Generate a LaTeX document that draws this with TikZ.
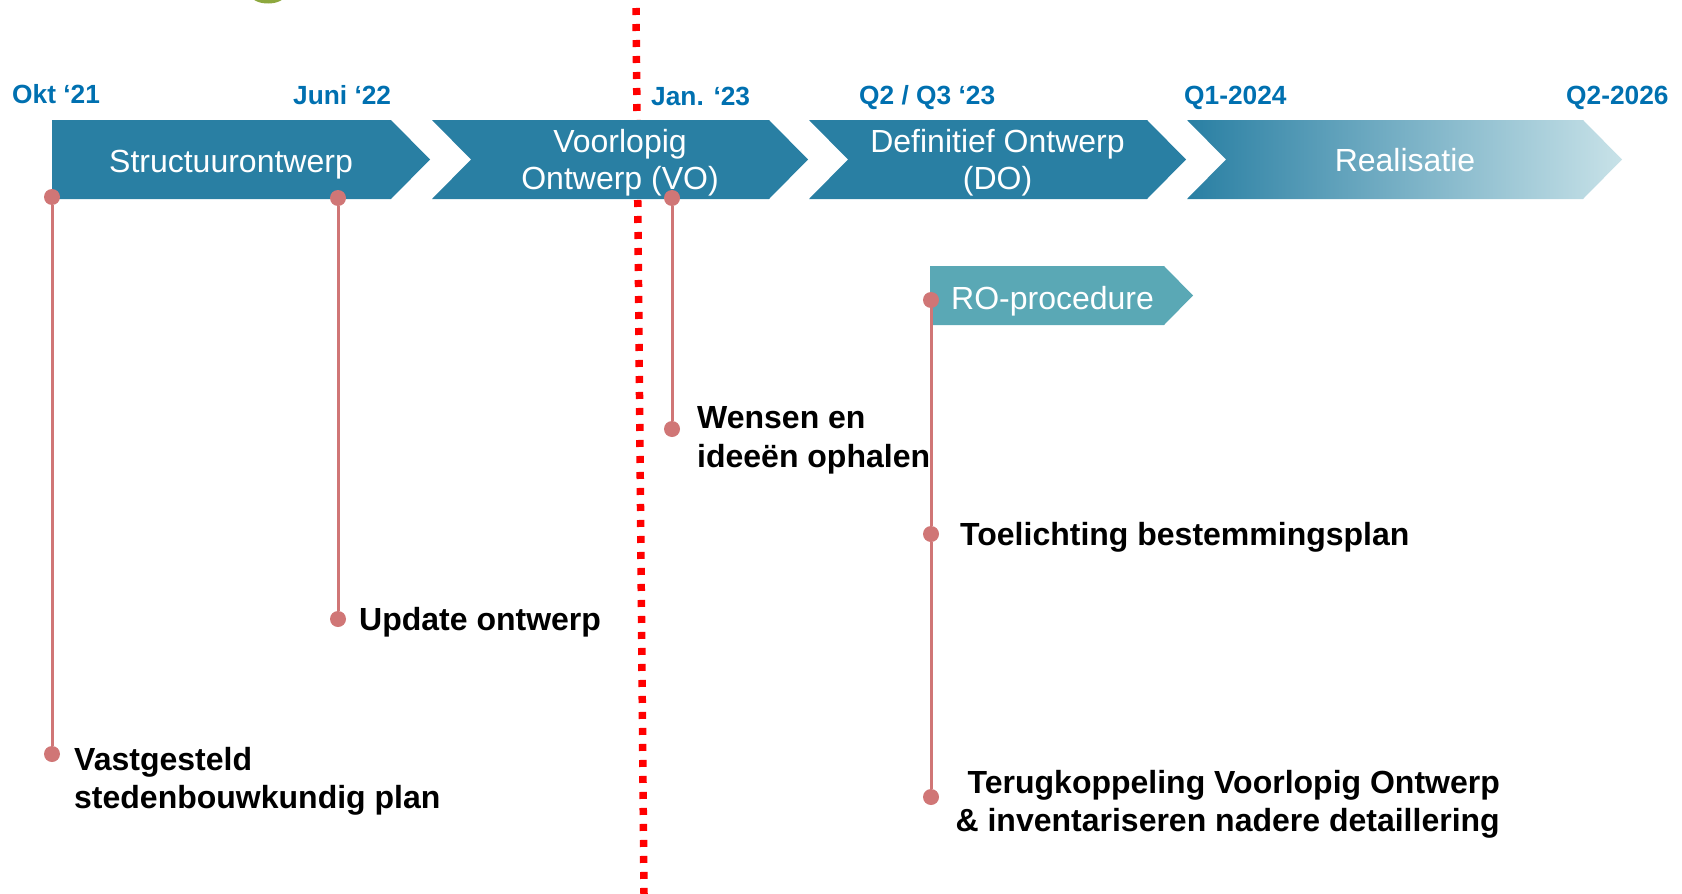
\documentclass[tikz,border=0pt]{standalone}
\usepackage{fontspec}
\setmainfont{Liberation Sans}
\definecolor{chev}{RGB}{41,127,163}
\definecolor{chevmid}{RGB}{92,167,182}
\definecolor{chevlight}{RGB}{200,226,232}
\definecolor{ro}{RGB}{90,168,181}
\definecolor{pin}{RGB}{208,118,118}
\definecolor{lab}{RGB}{0,112,176}
\definecolor{olive}{RGB}{141,168,62}
\definecolor{redline}{RGB}{255,0,0}
\begin{document}
\begin{tikzpicture}[x=1pt,y=-1pt,
  chevtext/.style={text=white,inner sep=0pt,align=center,font=\fontsize{32}{37}\selectfont},
  datelabel/.style={text=lab,inner sep=0pt,anchor=base west,font=\fontsize{26.3}{30}\selectfont\bfseries},
  milestone/.style={text=black,inner sep=0pt,font=\fontsize{32}{38.5}\selectfont\bfseries},
  dot/.style={circle,fill=pin,draw=none,minimum size=16pt,inner sep=0pt},
  conn/.style={draw=pin,line width=3pt},
  reddot/.style={draw=redline,line width=7.5pt,dash pattern=on 7pt off 9pt}]
\useasboundingbox (0,0) rectangle (1682,894);
% olive blob at the top edge
\begin{scope}
  \clip (0,0) rectangle (1682,894);
  \fill[olive] (268,-5) ellipse [x radius=17, y radius=8.5];
\end{scope}
% red dotted line (behind the chevrons)
\coordinate (rtop) at (636,8);
\coordinate (rbot) at (644,894);
\draw[reddot] (rtop) -- (rbot);
% chevrons
\fill[chev] (52,120) -- (391,120) -- (430,159.5) -- (391,199) -- (52,199) -- cycle;
\fill[chev] (432,120) -- (769,120) -- (808,159.5) -- (769,199) -- (432,199) -- (471,159.5) -- cycle;
\fill[chev] (809,120) -- (1147,120) -- (1186,159.5) -- (1147,199) -- (809,199) -- (848,159.5) -- cycle;
\shade[left color=chev, middle color=chevmid, right color=chevlight]
  (1187,120) -- (1583,120) -- (1622,159.5) -- (1583,199) -- (1187,199) -- (1226,159.5) -- cycle;
\fill[ro] (930,266) -- (1164,266) -- (1193,295.5) -- (1164,325) -- (930,325) -- cycle;
% chevron texts
\node[chevtext,anchor=base] (c1) at (231,172) {Structuurontwerp};
\node[chevtext,anchor=center] (c2) at (620,162.5) {Voorlopig\\Ontwerp (VO)};
\node[chevtext,anchor=center] (c3) at (997.5,162.5) {Definitief Ontwerp\\(DO)};
\node[chevtext,anchor=base] (c4) at (1405,171) {Realisatie};
\node[chevtext,anchor=base west] (c5) at (951,309) {RO-procedure};
% date labels
\node[datelabel] (l1) at (12,103) {Okt ‘21};
\node[datelabel] (l2) at (293,104) {Juni ‘22};
\node[datelabel] (l3) at (651,105) {Jan. ‘23};
\node[datelabel] (l4) at (859,104) {Q2 / Q3 ‘23};
\node[datelabel] (l5) at (1184,104) {Q1-2024};
\node[datelabel] (l6) at (1566,104) {Q2-2026};
% dots
\node[dot] (d1) at (52,197) {};
\node[dot] (d2) at (52,754) {};
\node[dot] (d3) at (338,198) {};
\node[dot] (d4) at (338,619) {};
\node[dot] (d5) at (672,198) {};
\node[dot] (d6) at (672,429) {};
\node[dot] (d7) at (931,300) {};
\node[dot] (d8) at (931,534) {};
\node[dot] (d9) at (931,797) {};
% connectors
\draw[conn] (d1) -- (d2);
\draw[conn] (d3) -- (d4);
\draw[conn] (d5) -- (d6);
\draw[conn] (d7) -- (d8);
\draw[conn] (d8) -- (d9);
% milestone texts
\node[milestone,anchor=north west,align=left] (m1) at (74,747) {Vastgesteld\\stedenbouwkundig plan};
\node[milestone,anchor=base west] (m2) at (359,630) {Update ontwerp};
\node[milestone,anchor=north west,align=left,font=\fontsize{32}{39.5}\selectfont\bfseries] (m3) at (697,406) {Wensen en\\ideeën ophalen};
\node[milestone,anchor=base west] (m4) at (960,545) {Toelichting bestemmingsplan};
\node[milestone,anchor=north east,align=right] (m5) at (1500,770) {Terugkoppeling Voorlopig Ontwerp\\\& inventariseren nadere detaillering};
\end{tikzpicture}
\end{document}
